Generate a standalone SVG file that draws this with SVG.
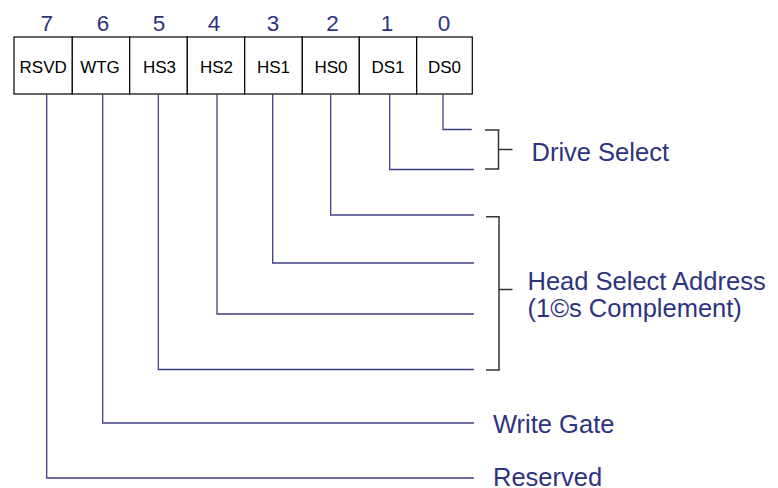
<svg xmlns="http://www.w3.org/2000/svg" width="778" height="488" viewBox="0 0 778 488">
<style>
.cell{fill:#fff;stroke:#000;stroke-width:1.2}
.lbl{font-family:"Liberation Sans",Arial,sans-serif;font-size:17px;fill:#000;text-anchor:middle}
.bit{font-family:"Liberation Sans",Arial,sans-serif;font-size:22.5px;fill:#2e3380;text-anchor:middle}
.txt{font-family:"Liberation Sans",Arial,sans-serif;font-size:25.5px;fill:#2e3380}
.wire{fill:none;stroke:#3f3f88;stroke-width:1.3}
.brk{fill:none;stroke:#333;stroke-width:1.5}
</style>
<rect width="778" height="488" fill="#fff"/>
<g id="bits">
<text class="bit" x="46.7" y="30.5">7</text>
<text class="bit" x="103" y="30.5">6</text>
<text class="bit" x="159" y="30.5">5</text>
<text class="bit" x="214" y="30.5">4</text>
<text class="bit" x="273" y="30.5">3</text>
<text class="bit" x="332.5" y="30.5">2</text>
<text class="bit" x="387" y="30.5">1</text>
<text class="bit" x="444" y="30.5">0</text>
</g>
<g id="node-rsvd"><rect class="cell" x="14" y="37" width="58.3" height="57"/><text class="lbl" x="43.2" y="72.5">RSVD</text></g>
<g id="node-wtg"><rect class="cell" x="72.3" y="37" width="57.4" height="57"/><text class="lbl" x="100" y="72.5">WTG</text></g>
<g id="node-hs3"><rect class="cell" x="129.7" y="37" width="57.6" height="57"/><text class="lbl" x="159.5" y="72.5">HS3</text></g>
<g id="node-hs2"><rect class="cell" x="187.3" y="37" width="57.4" height="57"/><text class="lbl" x="216.5" y="72.5">HS2</text></g>
<g id="node-hs1"><rect class="cell" x="244.7" y="37" width="57.6" height="57"/><text class="lbl" x="273.5" y="72.5">HS1</text></g>
<g id="node-hs0"><rect class="cell" x="302.3" y="37" width="57" height="57"/><text class="lbl" x="331" y="72.5">HS0</text></g>
<g id="node-ds1"><rect class="cell" x="359.3" y="37" width="57.4" height="57"/><text class="lbl" x="388" y="72.5">DS1</text></g>
<g id="node-ds0"><rect class="cell" x="416.7" y="37" width="55.6" height="57"/><text class="lbl" x="444.5" y="72.5">DS0</text></g>
<g id="connectors">
<path class="wire" d="M443 94V129.5H471.7"/>
<path class="wire" d="M389.7 94V169.5H474"/>
<path class="wire" d="M330.7 94V215H474"/>
<path class="wire" d="M272.7 94V263H474"/>
<path class="wire" d="M217 94V314H474"/>
<path class="wire" d="M158.3 94V369.5H474"/>
<path class="wire" d="M102.7 94V423H474"/>
<path class="wire" d="M46.7 94V478H474"/>
<path class="brk" d="M485 130H498.5V169H485M498.5 149.5H512.5"/>
<path class="brk" d="M486 216.7H499V370H486M499 289.5H512.5"/>
</g>
<g id="labels">
<text class="txt" x="531.5" y="160.7">Drive Select</text>
<text class="txt" x="527.5" y="290">Head Select Address</text>
<text class="txt" x="527.5" y="317">(1©s Complement)</text>
<text class="txt" x="493" y="432.7">Write Gate</text>
<text class="txt" x="493" y="485.5">Reserved</text>
</g>
</svg>
